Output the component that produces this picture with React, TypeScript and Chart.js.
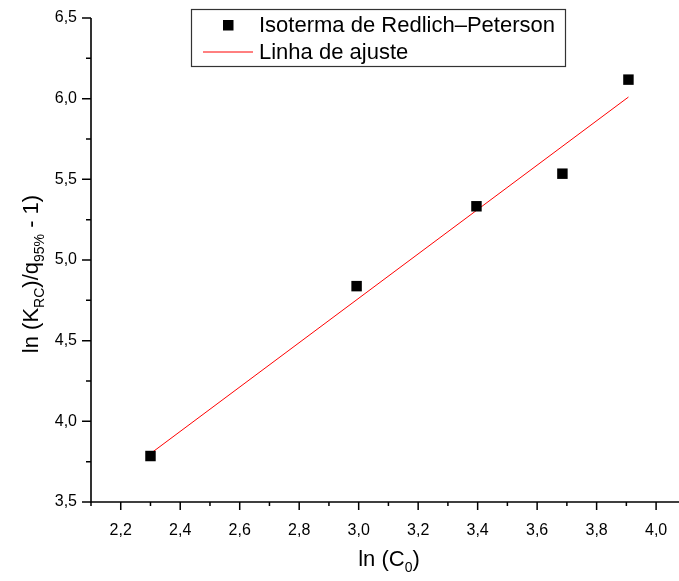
import React, { useEffect, useRef } from "react";
import { Chart, registerables } from "chart.js";

Chart.register(...registerables);

const lnC0 = [2.3, 2.993, 3.396, 3.685, 3.907];
const lnY = [3.785, 4.838, 5.333, 5.535, 6.118];
const fitX = [2.3, 3.907];
const fitY = [3.8, 6.01];
const legendLabels = ["Isoterma de Redlich\u2013Peterson", "Linha de ajuste"];

const FONT = "'Liberation Sans', Arial, sans-serif";

const isMajorX = (v: number) => Math.round(v * 10) % 2 === 0;
const isMajorY = (v: number) => Math.round(v * 4) % 2 === 0;
const fmt = (v: number) => v.toFixed(1).replace(".", ",");

const decor = {
  id: "decor",
  afterDraw(chart: any) {
    const ctx = chart.ctx as CanvasRenderingContext2D;
    const ca = chart.chartArea;
    const xs = chart.scales.x;
    const ys = chart.scales.y;
    ctx.save();
    // axes
    ctx.strokeStyle = "#000";
    ctx.lineWidth = 1.6;
    ctx.beginPath();
    ctx.moveTo(ca.left, ca.top);
    ctx.lineTo(ca.left, ca.bottom);
    ctx.lineTo(ca.right, ca.bottom);
    ctx.stroke();
    // ticks + labels
    ctx.lineWidth = 1.5;
    ctx.font = `16px ${FONT}`;
    ctx.fillStyle = "#000";
    ctx.beginPath();
    xs.ticks.forEach((t: any) => {
      const v = t.value;
      if (v > 4.05) return;
      const px = xs.getPixelForValue(v);
      const major = isMajorX(v);
      ctx.moveTo(px, ca.bottom);
      ctx.lineTo(px, ca.bottom + (major ? 8 : 4));
      if (major) {
        ctx.textAlign = "center";
        ctx.textBaseline = "middle";
        ctx.fillText(fmt(v), px, 531);
      }
    });
    ys.ticks.forEach((t: any) => {
      const v = t.value;
      const py = ys.getPixelForValue(v);
      const major = isMajorY(v);
      ctx.moveTo(ca.left, py);
      ctx.lineTo(ca.left - (major ? 9 : 5), py);
      if (major) {
        ctx.textAlign = "right";
        ctx.textBaseline = "middle";
        ctx.fillText(fmt(v), 77, py);
      }
    });
    ctx.stroke();

    ctx.fillStyle = "#000";
    ctx.textBaseline = "alphabetic";
    const big = `22px ${FONT}`;
    const small = `14px ${FONT}`;
    const drawParts = (parts: { t: string; sub?: boolean }[], x0: number, y0: number) => {
      let x = x0;
      parts.forEach((p) => {
        ctx.font = p.sub ? small : big;
        ctx.fillText(p.t, x, p.sub ? y0 + 6 : y0);
        x += ctx.measureText(p.t).width;
      });
    };
    const measureParts = (parts: { t: string; sub?: boolean }[]) => {
      let w = 0;
      parts.forEach((p) => {
        ctx.font = p.sub ? small : big;
        w += ctx.measureText(p.t).width;
      });
      return w;
    };
    ctx.textAlign = "left";
    // x title
    const xParts = [{ t: "ln (C" }, { t: "0", sub: true }, { t: ")" }];
    const xw = measureParts(xParts);
    drawParts(xParts, 389 - xw / 2, 566);

    // y title
    const yParts = [
      { t: "ln (K" },
      { t: "RC", sub: true },
      { t: ")/q" },
      { t: "95%", sub: true },
      { t: " - 1)" },
    ];
    const yw = measureParts(yParts);
    ctx.save();
    ctx.translate(38, 274);
    ctx.rotate(-Math.PI / 2);
    drawParts(yParts, -yw / 2, 0);
    ctx.restore();

    // legend
    ctx.lineWidth = 1.2;
    ctx.strokeStyle = "#333";
    ctx.strokeRect(191.5, 9.5, 374, 57);
    ctx.fillStyle = "#000";
    ctx.fillRect(223, 20, 10.5, 10.5);
    ctx.strokeStyle = "#ff0000";
    ctx.lineWidth = 1;
    ctx.beginPath();
    ctx.moveTo(203, 52);
    ctx.lineTo(253, 52);
    ctx.stroke();
    ctx.font = `22px ${FONT}`;
    ctx.textAlign = "left";
    ctx.textBaseline = "alphabetic";
    ctx.fillStyle = "#000";
    ctx.fillText(legendLabels[0], 259, 32);
    ctx.fillText(legendLabels[1], 259, 59);
    ctx.restore();
  },
};

export default function App() {
  const ref = useRef<HTMLCanvasElement>(null);
  useEffect(() => {
    document.body.style.margin = "0";
    const chart = new Chart(ref.current!, {
      type: "scatter",
      data: {
        datasets: [
          {
            label: legendLabels[0],
            data: lnC0.map((x, i) => ({ x, y: lnY[i] })),
            pointStyle: "rect",
            pointRadius: 7.4,
            backgroundColor: "#000",
            borderColor: "#000",
            borderWidth: 0,
            order: 1,
          },
          {
            label: legendLabels[1],
            type: "line",
            data: fitX.map((x, i) => ({ x, y: fitY[i] })),
            borderColor: "#ff0000",
            borderWidth: 1,
            pointRadius: 0,
            fill: false,
            order: 2,
          } as any,
        ],
      },
      options: {
        animation: false,
        responsive: false,
        maintainAspectRatio: false,
        layout: { autoPadding: false, padding: { top: 18, right: 0, left: 0, bottom: 0 } },
        plugins: { legend: { display: false }, tooltip: { enabled: false } },
        scales: {
          x: {
            type: "linear",
            min: 2.1,
            max: 4.077,
            grid: { display: false, drawTicks: false },
            border: { display: false },
            afterFit: (s: any) => {
              s.height = 79;
            },
            ticks: { stepSize: 0.1, display: false, includeBounds: false },
          },
          y: {
            type: "linear",
            min: 3.5,
            max: 6.5,
            grid: { display: false, drawTicks: false },
            border: { display: false },
            afterFit: (s: any) => {
              s.width = 91;
            },
            ticks: { stepSize: 0.25, display: false },
          },
        },
      },
      plugins: [decor],
    });
    return () => chart.destroy();
  }, []);
  return (
    <div style={{ position: "absolute", left: 0, top: 0, width: 679, height: 581, background: "#fff" }}>
      <canvas ref={ref} width={679} height={581} style={{ width: 679, height: 581 }} />
    </div>
  );
}
